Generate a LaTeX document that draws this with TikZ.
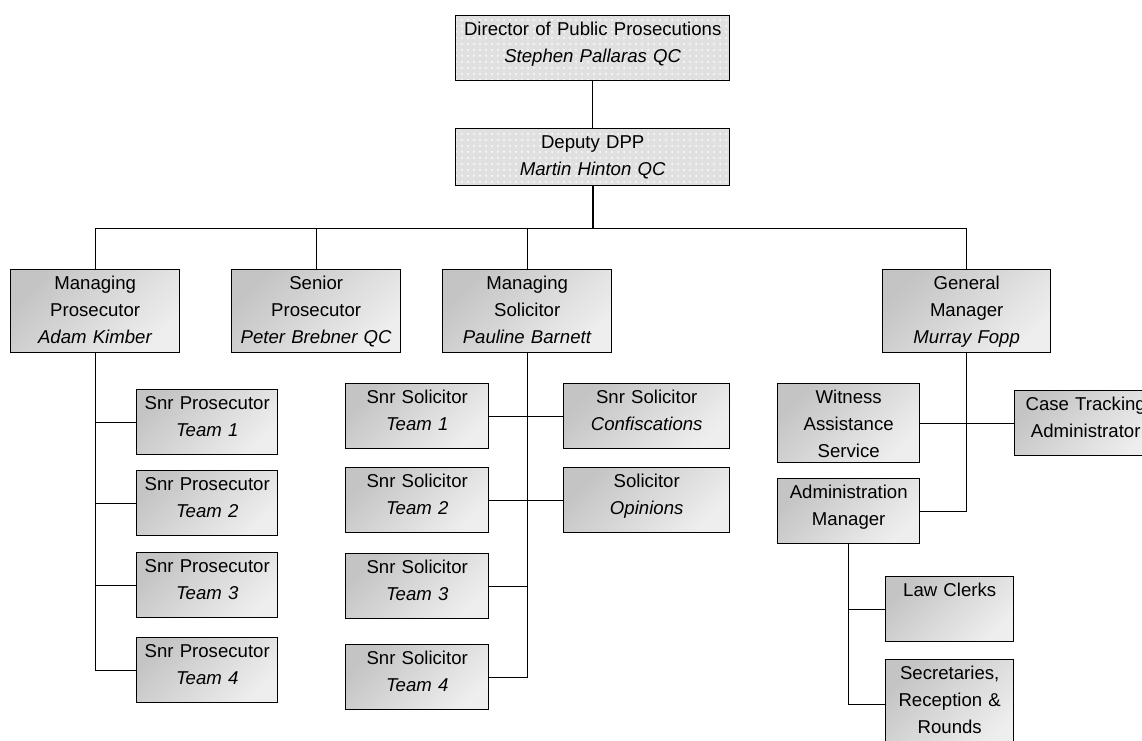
\documentclass[tikz,border=0pt]{standalone}
\usepackage{fontspec}
\setmainfont{Liberation Sans}
\usepackage{tikz}
\usetikzlibrary{patterns}
\definecolor{boxdark}{HTML}{C4C4C4}
\definecolor{boxlight}{HTML}{EEEEEE}
\definecolor{headfill}{HTML}{E0E0E0}

\begin{document}
\begin{tikzpicture}[
 x=0.5pt, y=-0.5pt,
 font=\fontsize{9.3}{13.5}\selectfont,
 unit/.style={draw,line width=0.7pt,anchor=north west,align=center,inner sep=0pt,text height=10pt,top color=boxdark,bottom color=boxlight,shading angle=45},
 head/.style={draw,line width=0.7pt,anchor=north west,align=center,inner sep=0pt,text height=10pt,preaction={fill=headfill},pattern=dots,pattern color=white},
 boxsize/.style 2 args={text width=#1,text depth=#2},
 link/.style={line width=0.6pt},
]
\useasboundingbox (0,0) rectangle (1142,740);
\clip (0,0) rectangle (1142,740);
\fill[white] (0,0) rectangle (1142,740);

\node[head,boxsize={137pt}{22.5pt}] (dpp) at (455,15) {Director of Public Prosecutions\\\textit{Stephen Pallaras QC}};
\node[head,boxsize={137pt}{18.5pt}] (ddpp) at (455,128) {Deputy DPP\\\textit{Martin Hinton QC}};

\node[unit,boxsize={84.5pt}{31.5pt}] (mpros) at (10,269) {Managing\\Prosecutor\\\textit{Adam Kimber}};
\node[unit,boxsize={84.5pt}{31.5pt}] (spros) at (231,269) {Senior\\Prosecutor\\\textit{Peter Brebner QC}};
\node[unit,boxsize={84.5pt}{31.5pt}] (msol) at (442,269) {Managing\\Solicitor\\\textit{Pauline Barnett}};
\node[unit,boxsize={84pt}{31.5pt}] (gm) at (882,269) {General\\Manager\\\textit{Murray Fopp}};

\foreach \k/\y in {1/389,2/470,3/552,4/637}
 \node[unit,boxsize={70.5pt}{22.5pt}] (pt\k) at (136,\y) {Snr Prosecutor\\\textit{Team \k}};
\foreach \k/\y in {1/383,2/467,3/553,4/644}
 \node[unit,boxsize={71.5pt}{22.5pt}] (st\k) at (345,\y) {Snr Solicitor\\\textit{Team \k}};
\node[unit,boxsize={83pt}{22.5pt}] (conf) at (563,383) {Snr Solicitor\\\textit{Confiscations}};
\node[unit,boxsize={83pt}{22.5pt}] (opin) at (563,467) {Solicitor\\\textit{Opinions}};

\node[unit,boxsize={71pt}{29.5pt}] (was) at (777,383) {Witness\\Assistance\\Service};
\node[unit,boxsize={71pt}{22.5pt}] (cta) at (1014,390) {Case Tracking\\Administrator};
\node[unit,boxsize={71pt}{22.5pt}] (am) at (777,478) {Administration\\Manager};
\node[unit,boxsize={64pt}{22.5pt}] (lc) at (885,576) {Law Clerks};
\node[unit,boxsize={64pt}{35pt}] (sec) at (885,659) {Secretaries,\\Reception \&\\Rounds};

\draw[link] (dpp) -- (ddpp);
\draw[link,line width=1pt] (ddpp.south) -- ++(0,42) coordinate (bus);
\draw[link] (mpros.north) |- (bus) -| (gm.north);
\draw[link] (spros.north) -- (spros.north |- bus);
\draw[link] (msol.north) -- (msol.north |- bus);

\draw[link] (mpros.south) |- (pt4.west);
\foreach \k in {1,2,3}
 \draw[link] (pt\k.west) -- (pt\k.west -| mpros.south);
\draw[link] (msol.south) |- (st4.east);
\draw[link] (st3.east) -- (st3.east -| msol.south);
\draw[link] (st1.east) -- (conf.west);
\draw[link] (st2.east) -- (opin.west);

\draw[link] (gm.south) |- (am.east);
\draw[link] (was.east) -- (cta.west);
\draw[link] (am.south) |- (sec.west);
\draw[link] (lc.west) -- (lc.west -| am.south);
\end{tikzpicture}
\end{document}
